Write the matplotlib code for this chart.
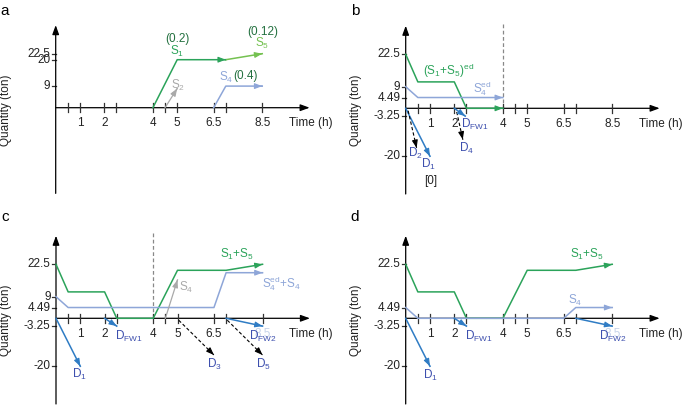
import matplotlib.pyplot as plt

plt.rcParams['font.family'] = ['Liberation Sans', 'DejaVu Sans']
plt.rcParams['mathtext.fontset'] = 'custom'
plt.rcParams['mathtext.rm'] = 'Liberation Sans'
plt.rcParams['mathtext.it'] = 'Liberation Sans:italic'
plt.rcParams['mathtext.default'] = 'regular'

GREEN = '#2ba35a'
LGREEN = '#74c150'
DGREEN = '#23703f'
GRAY = '#a9a9a9'
LBLUE = '#8ea6d8'
BLUE = '#2f7cc4'
DBLUE = '#3d4fae'
AXC = '#333333'

W, H = 691, 407
PX_T = 24.3   # pixels per hour
PX_Q = 2.4    # pixels per ton
FS = 8.5

# time axis
tick_t = [0.5, 1, 2, 2.5, 4, 4.5, 5, 6.5, 7, 8.5]
label_t = [1, 2, 4, 5, 6.5, 8.5]

# panel a
a_yticks = [22.5, 20, 9]
a_s1_t = [4, 5, 7]
a_s1_q = [0, 20, 20]
a_s5_t = [7, 8.5]
a_s5_q = [20, 22.5]
a_s2_t = [4.5, 5]
a_s2_q = [0, 8]
a_s4_t = [6.5, 7, 8.5]
a_s4_q = [0, 9, 9]

# panel b
b_yticks = [22.5, 9, 4.49, -3.25, -20]
b_s15_t = [0, 0.5, 2, 2.5, 4]
b_s15_q = [22.5, 11, 11, 0, 0]
b_s4_t = [0, 0.5, 4]
b_s4_q = [9, 4.49, 4.49]
b_d1_t = [0, 1]
b_d1_q = [0, -20]
b_d2_t = [0.1, 0.45]
b_d2_q = [-1, -16.5]
b_dfw1_t = [2, 2.45]
b_dfw1_q = [0, -3.25]
b_d4_t = [2.1, 2.35]
b_d4_q = [-1.5, -13]

# panel c
c_yticks = [22.5, 9, 4.49, -3.25, -20]
c_s15_t = [0, 0.5, 2, 2.5, 4, 5, 7, 8.5]
c_s15_q = [22.5, 11, 11, 0, 0, 20, 20, 22.5]
c_s4ed_t = [0, 0.5, 6.5, 7, 8.5]
c_s4ed_q = [9, 4.49, 4.49, 19, 19]
c_s4_t = [4.5, 5]
c_s4_q = [0, 16]
c_d1_t = [0, 1]
c_d1_q = [0, -20]
c_dfw1_t = [2, 2.5]
c_dfw1_q = [0, -3.25]
c_d3_t = [5.05, 6.5]
c_d3_q = [-0.8, -15.3]
c_d5_t = [7.05, 8.5]
c_d5_q = [-0.8, -15.3]
c_dfw2_t = [7, 8.5]
c_dfw2_q = [0, -3.25]

# panel d
d_yticks = [22.5, 4.49, -3.25, -20]
d_s15_t = [0, 0.5, 2, 2.5, 4, 5, 7, 8.5]
d_s15_q = [22.5, 11, 11, 0, 0, 20, 20, 22.5]
d_s4_t = [0, 0.5, 6.5, 7, 8.5]
d_s4_q = [4.49, 0, 0, 4.49, 4.49]
d_d1_t = [0, 1]
d_d1_q = [0, -20]
d_dfw1_t = [2, 2.5]
d_dfw1_q = [0, -3.25]
d_dfw2_t = [7, 8.5]
d_dfw2_q = [0, -3.25]


def make_ax(fig, qx, qy, qw, qh, ox, oy):
    ax = fig.add_axes([qx / W, 1 - (qy + qh) / H, qw / W, qh / H])
    ax.set_xlim((qx - ox) / PX_T, (qx + qw - ox) / PX_T)
    ax.set_ylim(-(qy + qh - oy) / PX_Q, (oy - qy) / PX_Q)
    ax.axis('off')
    return ax


def head(ax, t, q, color, size=10):
    t0 = t[-1] - 0.01 * (t[-1] - t[-2])
    q0 = q[-1] - 0.01 * (q[-1] - q[-2])
    ax.annotate('', xy=(t[-1], q[-1]), xytext=(t0, q0),
                arrowprops=dict(arrowstyle='-|>,head_length=0.45,head_width=0.17',
                                color=color, lw=0.8, shrinkA=0, shrinkB=0,
                                mutation_scale=size), zorder=5)


def curve(ax, t, q, color, ls='-', arrow=True, lw=1.1):
    ax.plot(t, q, color=color, ls=ls, lw=lw, zorder=4,
            dashes=(3, 2) if ls == '--' else (None, None))
    if arrow:
        head(ax, t, q, color)


def frame(ax, yticks, letter, faded=False):
    ax.annotate('', xy=(10.45, 0), xytext=(0, 0),
                arrowprops=dict(arrowstyle='-|>,head_length=0.55,head_width=0.2',
                                color='black', lw=0.9, shrinkA=0, shrinkB=0,
                                mutation_scale=10), zorder=3)
    ax.annotate('', xy=(0, 34.4), xytext=(0, -35.7),
                arrowprops=dict(arrowstyle='-|>,head_length=0.55,head_width=0.2',
                                color='black', lw=0.9, shrinkA=0, shrinkB=0,
                                mutation_scale=10), zorder=3)
    for t in tick_t:
        ax.plot([t, t], [-1.9, 1.9], color=AXC, lw=0.9, zorder=3)
    for t in label_t:
        c = '#c6d3e9' if (faded and t == 8.5) else '#222222'
        ax.text(t, -6.5, '{:g}'.format(t), ha='center', va='center',
                fontsize=FS, color=c, zorder=2)
    ax.text(10.5, -6.5, 'Time (h)', ha='center', va='center', fontsize=FS, color='#222222')
    for q in yticks:
        ax.plot([-0.17, 0], [q, q], color=AXC, lw=0.9)
        ax.text(-0.22, q, '{:g}'.format(q), ha='right', va='center',
                fontsize=FS, color='#222222')
    ax.text(-2.05, -1, 'Quantity (ton)', rotation=90, ha='center', va='center',
            fontsize=FS, color='#222222')
    ax.text(-2.09, 40.5 if letter in 'ab' else 42.2, letter, ha='center',
            va='center', fontsize=11, color='black')


fig = plt.figure(figsize=(W / 100, H / 100), dpi=100)

# ---- a
ax = make_ax(fig, 0, 0, 345, 200, 55.7, 107.7)
frame(ax, a_yticks, 'a')
curve(ax, a_s1_t, a_s1_q, GREEN)
curve(ax, a_s5_t, a_s5_q, LGREEN)
curve(ax, a_s2_t, a_s2_q, GRAY, lw=0.9)
curve(ax, a_s4_t, a_s4_q, LBLUE)
ax.text(5.0, 28.5, '(0.2)', ha='center', va='center', fontsize=FS, color=DGREEN)
ax.text(5.0, 23.6, 'S$_1$', ha='center', va='center', fontsize=FS, color=GREEN)
ax.text(8.5, 31.4, '(0.12)', ha='center', va='center', fontsize=FS, color=DGREEN)
ax.text(8.5, 26.6, 'S$_5$', ha='center', va='center', fontsize=FS, color=LGREEN)
ax.text(5.05, 9.4, 'S$_2$', ha='center', va='center', fontsize=FS, color=GRAY)
ax.text(7.03, 12.4, 'S$_4$', ha='center', va='center', fontsize=FS, color=LBLUE)
ax.text(7.8, 13.2, '(0.4)', ha='center', va='center', fontsize=FS, color=DGREEN)

# ---- b
ax = make_ax(fig, 345, 0, 346, 200, 405.7, 108.3)
frame(ax, b_yticks, 'b')
ax.plot([4, 4], [35.2, -0.5], color='#888888', lw=0.9, dashes=(3, 2), zorder=2)
curve(ax, b_s15_t, b_s15_q, GREEN)
curve(ax, b_s4_t, b_s4_q, LBLUE)
curve(ax, b_d1_t, b_d1_q, BLUE)
curve(ax, b_d2_t, b_d2_q, 'black', ls='--', lw=0.8)
curve(ax, b_dfw1_t, b_dfw1_q, BLUE)
curve(ax, b_d4_t, b_d4_q, 'black', ls='--', lw=0.8)
ax.text(1.77, 15.4, '(S$_1$+S$_5$)$^{ed}$', ha='center', va='center', fontsize=FS, color=GREEN)
ax.text(3.16, 8.0, 'S$_4^{ed}$', ha='center', va='center', fontsize=FS, color=LBLUE)
ax.text(0.40, -18.9, 'D$_2$', ha='center', va='center', fontsize=FS, color=DBLUE)
ax.text(0.95, -23.2, 'D$_1$', ha='center', va='center', fontsize=FS, color=DBLUE)
ax.text(1.01, -30.4, '[0]', ha='center', va='center', fontsize=FS, color='#222222')
ax.text(2.85, -6.9, 'D$_{FW1}$', ha='center', va='center', fontsize=FS, color=DBLUE)
ax.text(2.49, -16.9, 'D$_4$', ha='center', va='center', fontsize=FS, color=DBLUE)

# ---- c
ax = make_ax(fig, 0, 200, 345, 207, 56, 318.3)
frame(ax, c_yticks, 'c', faded=True)
ax.plot([4, 4], [35.4, -0.5], color='#888888', lw=0.9, dashes=(3, 2), zorder=2)
curve(ax, c_s15_t, c_s15_q, GREEN)
curve(ax, c_s4ed_t, c_s4ed_q, LBLUE)
curve(ax, c_s4_t, c_s4_q, GRAY, lw=0.9)
curve(ax, c_d1_t, c_d1_q, BLUE)
curve(ax, c_dfw1_t, c_dfw1_q, BLUE)
curve(ax, c_d3_t, c_d3_q, 'black', ls='--', lw=0.8)
curve(ax, c_d5_t, c_d5_q, 'black', ls='--', lw=0.8)
curve(ax, c_dfw2_t, c_dfw2_q, BLUE)
ax.text(7.45, 26.4, 'S$_1$+S$_5$', ha='center', va='center', fontsize=FS, color=GREEN)
ax.text(9.27, 14.6, 'S$_4^{ed}$+S$_4$', ha='center', va='center', fontsize=FS, color=LBLUE)
ax.text(5.37, 12.9, 'S$_4$', ha='center', va='center', fontsize=FS, color=GRAY)
ax.text(0.97, -23.2, 'D$_1$', ha='center', va='center', fontsize=FS, color=DBLUE)
ax.text(3.01, -7.6, 'D$_{FW1}$', ha='center', va='center', fontsize=FS, color=DBLUE)
ax.text(6.53, -19.4, 'D$_3$', ha='center', va='center', fontsize=FS, color=DBLUE)
ax.text(8.53, -7.6, 'D$_{FW2}$', ha='center', va='center', fontsize=FS, color=DBLUE)
ax.text(8.52, -19.4, 'D$_5$', ha='center', va='center', fontsize=FS, color=DBLUE)

# ---- d
ax = make_ax(fig, 345, 200, 346, 207, 405.7, 318.3)
frame(ax, d_yticks, 'd', faded=True)
curve(ax, d_s15_t, d_s15_q, GREEN)
curve(ax, d_s4_t, d_s4_q, LBLUE)
curve(ax, d_d1_t, d_d1_q, BLUE)
curve(ax, d_dfw1_t, d_dfw1_q, BLUE)
curve(ax, d_dfw2_t, d_dfw2_q, BLUE)
ax.text(7.47, 26.4, 'S$_1$+S$_5$', ha='center', va='center', fontsize=FS, color=GREEN)
ax.text(6.99, 7.6, 'S$_4$', ha='center', va='center', fontsize=FS, color=LBLUE)
ax.text(1.0, -24, 'D$_1$', ha='center', va='center', fontsize=FS, color=DBLUE)
ax.text(3.03, -7.6, 'D$_{FW1}$', ha='center', va='center', fontsize=FS, color=DBLUE)
ax.text(8.52, -7.6, 'D$_{FW2}$', ha='center', va='center', fontsize=FS, color=DBLUE)

fig.savefig('out.png', dpi=100)
